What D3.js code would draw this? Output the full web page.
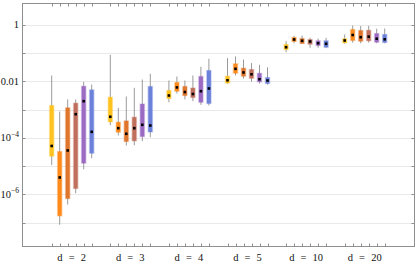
<!DOCTYPE html>
<html><head><meta charset="utf-8">
<script src="https://cdn.jsdelivr.net/npm/d3@7"></script>
<style>html,body{margin:0;padding:0;background:#fff;}svg{display:block;}</style>
</head><body>
<script>
const groups = ["d = 2", "d = 3", "d = 4", "d = 5", "d = 10", "d = 20"];
const seriesColors = ["#FFC21F", "#FF8A1C", "#E0762C", "#C06F5C", "#9B6BC4", "#6C82DA"];
const yTickValues = [1, 0.01, 1e-4, 1e-6];
const yTickLabels = [["1", ""], ["0.01", ""], ["10", "−4"], ["10", "−6"]];
const gridValues = [1e-7, 1e-6, 1e-5, 1e-4, 1e-3, 1e-2, 1e-1, 1];
// per group (rows), per series (columns)
const whiskerHigh = [
  [1.61e-2, 8.6e-4, 2.3e-3, 2.3e-3, 9.6e-3, 7.7e-3],
  [8.7e-2, 1.16e-3, 2.92e-3, 5.9e-3, 1.16e-2, 1.85e-2],
  [1.07e-2, 1.49e-2, 1.07e-2, 1.61e-2, 3.27e-2, 6.3e-2],
  [6.6e-2, 7.6e-2, 5.9e-2, 4.46e-2, 3.85e-2, 3.14e-2],
  [0.263, 0.408, 0.418, 0.347, 0.328, 0.347],
  [0.454, 0.944, 0.908, 0.922, 0.728, 0.740]
];
const q3 = [
  [1.40e-3, 3.3e-5, 1.16e-3, 1.69e-3, 6.7e-3, 5.0e-3],
  [2.75e-3, 3.6e-4, 4.0e-4, 5.4e-4, 1.58e-3, 6.6e-3],
  [4.75e-3, 9.1e-3, 6.6e-3, 5.8e-3, 1.49e-2, 2.42e-2],
  [1.52e-2, 4.18e-2, 2.92e-2, 2.63e-2, 1.93e-2, 1.37e-2],
  [0.201, 0.356, 0.328, 0.302, 0.272, 0.272],
  [0.322, 0.682, 0.629, 0.639, 0.492, 0.454]
];
const median = [
  [5.2e-5, 4.0e-6, 3.6e-5, 6.9e-4, 1.99e-3, 1.64e-4],
  [5.6e-4, 2.21e-4, 1.40e-4, 2.21e-4, 2.91e-4, 2.75e-4],
  [3.16e-3, 6.1e-3, 4.2e-3, 3.57e-3, 4.49e-3, 5.6e-3],
  [1.09e-2, 2.78e-2, 2.06e-2, 1.78e-2, 1.19e-2, 1.07e-2],
  [0.161, 0.302, 0.272, 0.257, 0.223, 0.213],
  [0.279, 0.436, 0.364, 0.380, 0.322, 0.307]
];
const q1 = [
  [2.26e-5, 1.76e-7, 7.2e-7, 1.63e-6, 1.28e-5, 2.88e-5],
  [3.7e-4, 1.59e-4, 7.5e-5, 7.9e-5, 1.12e-4, 1.62e-4],
  [2.48e-3, 4.49e-3, 3.16e-3, 2.69e-3, 1.83e-3, 1.65e-3],
  [8.7e-3, 1.94e-2, 1.52e-2, 1.28e-2, 9.6e-3, 8.4e-3],
  [0.134, 0.257, 0.218, 0.206, 0.185, 0.161],
  [0.231, 0.279, 0.263, 0.272, 0.243, 0.237]
];
const whiskerLow = [
  [1.10e-5, 8.5e-8, 4.4e-7, 1.11e-6, 7.8e-6, 1.92e-5],
  [2.82e-4, 1.22e-4, 5.4e-5, 5.5e-5, 7.7e-5, 1.06e-4],
  [1.83e-3, 3.72e-3, 2.3e-3, 1.99e-3, 1.48e-3, 1.40e-3],
  [8.2e-3, 1.61e-2, 1.26e-2, 9.7e-3, 8.4e-3, 7.7e-3],
  [0.107, 0.223, 0.213, 0.154, 0.154, 0.149],
  [0.213, 0.233, 0.222, 0.233, 0.222, 0.222]
];

const W = 420, H = 267;
const L = 22.5, R = 414.5, T = 3.5, B = 246.5;
const svg = d3.select("body").append("svg").attr("width", W).attr("height", H);
const font = "'Liberation Serif', 'DejaVu Serif', serif";

const y = d3.scaleLog().domain([1.45e-8, 5.66]).range([B, T]);
const xg = d3.scalePoint().domain(groups).range([71.7, 364.7]);
const xs = d3.scalePoint().domain(d3.range(6)).range([-20, 20]);
const boxX = (g, s) => xg(groups[g]) + xs(s);

// gridlines
svg.append("g").selectAll("line").data(gridValues).join("line")
  .attr("x1", L).attr("x2", R)
  .attr("y1", d => Math.round(y(d)) + 0.5).attr("y2", d => Math.round(y(d)) + 0.5)
  .attr("stroke", "#e9e9e9").attr("stroke-width", 1);

// y ticks left/right
const yt = svg.append("g").attr("stroke", "#8f8f8f");
gridValues.forEach(v => {
  const yy = Math.round(y(v)) + 0.5;
  yt.append("line").attr("x1", L).attr("x2", L + 3).attr("y1", yy).attr("y2", yy);
  yt.append("line").attr("x1", R - 3).attr("x2", R).attr("y1", yy).attr("y2", yy);
});

// x ticks top/bottom
const xt = svg.append("g").attr("stroke", "#8f8f8f");
groups.forEach((g, gi) => d3.range(6).forEach(s => {
  const xx = Math.round(boxX(gi, s)) + 0.5;
  xt.append("line").attr("x1", xx).attr("x2", xx).attr("y1", B).attr("y2", B - 3);
  xt.append("line").attr("x1", xx).attr("x2", xx).attr("y1", T).attr("y2", T + 3);
}));

// y labels
const yl = svg.append("g").attr("font-family", font).attr("font-size", 10.5).attr("fill", "#111");
yTickValues.forEach((v, i) => {
  const t = yl.append("text").attr("x", 19).attr("y", y(v) + 3.5).attr("text-anchor", "end");
  t.append("tspan").text(yTickLabels[i][0]);
  if (yTickLabels[i][1]) t.append("tspan").attr("font-size", 7.5).attr("dy", -4.5).text(yTickLabels[i][1]);
});

// x labels
svg.append("g").selectAll("text").data(groups).join("text")
  .attr("x", d => xg(d)).attr("y", 261).attr("text-anchor", "middle")
  .attr("font-family", font).attr("font-size", 10.5).attr("word-spacing", 3.5).attr("fill", "#111")
  .text(d => d);

// boxes
const marks = svg.append("g");
groups.forEach((g, gi) => d3.range(6).forEach(s => {
  const cx = boxX(gi, s);
  const c = seriesColors[s];
  marks.append("line").attr("x1", cx).attr("x2", cx)
    .attr("y1", y(whiskerHigh[gi][s])).attr("y2", y(whiskerLow[gi][s]))
    .attr("stroke", "#9a9a9a").attr("stroke-width", 1);
  const top = y(q3[gi][s]), bot = y(q1[gi][s]);
  marks.append("rect").attr("x", cx - 2.8).attr("width", 5.6)
    .attr("y", top - 0.6).attr("height", bot - top + 1.2)
    .attr("fill", c).attr("opacity", 0.35);
  marks.append("rect").attr("x", cx - 2).attr("width", 4)
    .attr("y", top).attr("height", bot - top)
    .attr("fill", c);
  marks.append("rect").attr("x", cx - 1.3).attr("width", 2.6)
    .attr("y", y(median[gi][s]) - 1.3).attr("height", 2.6)
    .attr("fill", "#000");
}));

// frame
svg.append("rect").attr("x", L).attr("y", T).attr("width", R - L).attr("height", B - T)
  .attr("fill", "none").attr("stroke", "#8f8f8f").attr("stroke-width", 1);
</script>
</body></html>
